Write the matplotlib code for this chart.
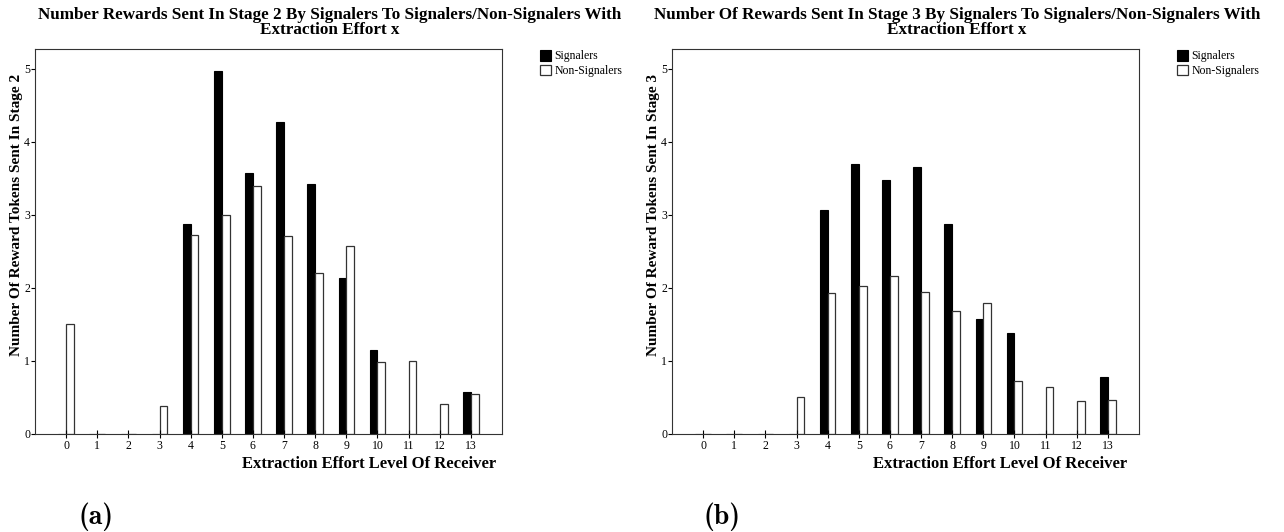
import matplotlib
matplotlib.use("Agg")
import matplotlib.pyplot as plt
import numpy as np
from matplotlib.patches import Patch

plt.rcParams['font.family'] = ['Liberation Serif', 'DejaVu Serif']

levels = list(range(14))
stage2_signalers = [0, 0, 0, 0, 2.88, 4.97, 3.57, 4.27, 3.42, 2.14, 1.15, 0, 0, 0.58]
stage2_nonsignalers = [1.50, 0, 0, 0.38, 2.73, 3.00, 3.40, 2.71, 2.21, 2.57, 0.99, 1.00, 0.41, 0.55]
stage3_signalers = [0, 0, 0, 0, 3.07, 3.70, 3.47, 3.66, 2.88, 1.58, 1.38, 0, 0, 0.78]
stage3_nonsignalers = [0, 0, 0, 0.50, 1.93, 2.03, 2.16, 1.95, 1.68, 1.79, 0.73, 0.64, 0.45, 0.47]

titles = ["Number Rewards Sent In Stage 2 By Signalers To Signalers/Non-Signalers With\nExtraction Effort x",
          "Number Of Rewards Sent In Stage 3 By Signalers To Signalers/Non-Signalers With\nExtraction Effort x"]
ylabels = ["Number Of Reward Tokens Sent In Stage 2", "Number Of Reward Tokens Sent In Stage 3"]
xlabel = "Extraction Effort Level Of Receiver"
series_labels = ["Signalers", "Non-Signalers"]
panel_tags = ["(a)", "(b)"]

W, H = 1284, 532
fig = plt.figure(figsize=(W / 100, H / 100), dpi=100)

panels = [
    dict(left=35, sig=stage2_signalers, non=stage2_nonsignalers, title_x=330, xl=0.715, tag_x=96),
    dict(left=672, sig=stage3_signalers, non=stage3_nonsignalers, title_x=957, xl=0.702, tag_x=722),
]
ax_w, ax_top, ax_bot = 467, 49, 434

x = np.array(levels)
bw = 0.25
for i, p in enumerate(panels):
    ax = fig.add_axes([p['left'] / W, (H - ax_bot) / H, ax_w / W, (ax_bot - ax_top) / H])
    ax.bar(x - bw / 2, p['sig'], width=bw, color='black', edgecolor='black', linewidth=0.8)
    ax.bar(x + bw / 2, p['non'], width=bw, color='white', edgecolor='#333333', linewidth=0.9)
    ax.set_xlim(-1, 14)
    ax.set_ylim(0, 5.27)
    ax.set_xticks(levels)
    ax.set_yticks(range(6))
    ax.tick_params(axis='x', direction='inout', length=6, width=0.8, labelsize=8.5, pad=1)
    ax.tick_params(axis='y', direction='out', length=3, width=0.8, labelsize=8.5, pad=0.5)
    for s in ax.spines.values():
        s.set_linewidth(0.8)
        s.set_color('#333333')
    ax.set_ylabel(ylabels[i], fontsize=11, fontweight='bold')
    ax.yaxis.set_label_coords(-0.026, 0.569)
    ax.set_xlabel(xlabel, fontsize=12, fontweight='bold')
    ax.xaxis.set_label_coords(p['xl'], -0.058)
    handles = [Patch(facecolor='black', edgecolor='black', linewidth=0.8),
               Patch(facecolor='white', edgecolor='#333333', linewidth=0.9)]
    ax.legend(handles, series_labels, loc='upper left', bbox_to_anchor=(1.081, 0.997),
              frameon=False, fontsize=8.5, handlelength=0.95, handleheight=1.0,
              handletextpad=0.3, labelspacing=0.2, borderpad=0, borderaxespad=0)
    fig.text(p['title_x'] / W, 1 - 7 / H, titles[i], ha='center', va='top',
             fontsize=12.3, fontweight='bold', linespacing=0.95)
    fig.text(p['tag_x'] / W, 1 - 517 / H, panel_tags[i], ha='center', va='center',
             fontsize=20, family=['cmb10', 'DejaVu Serif'])

fig.savefig("out.png", dpi=100)
